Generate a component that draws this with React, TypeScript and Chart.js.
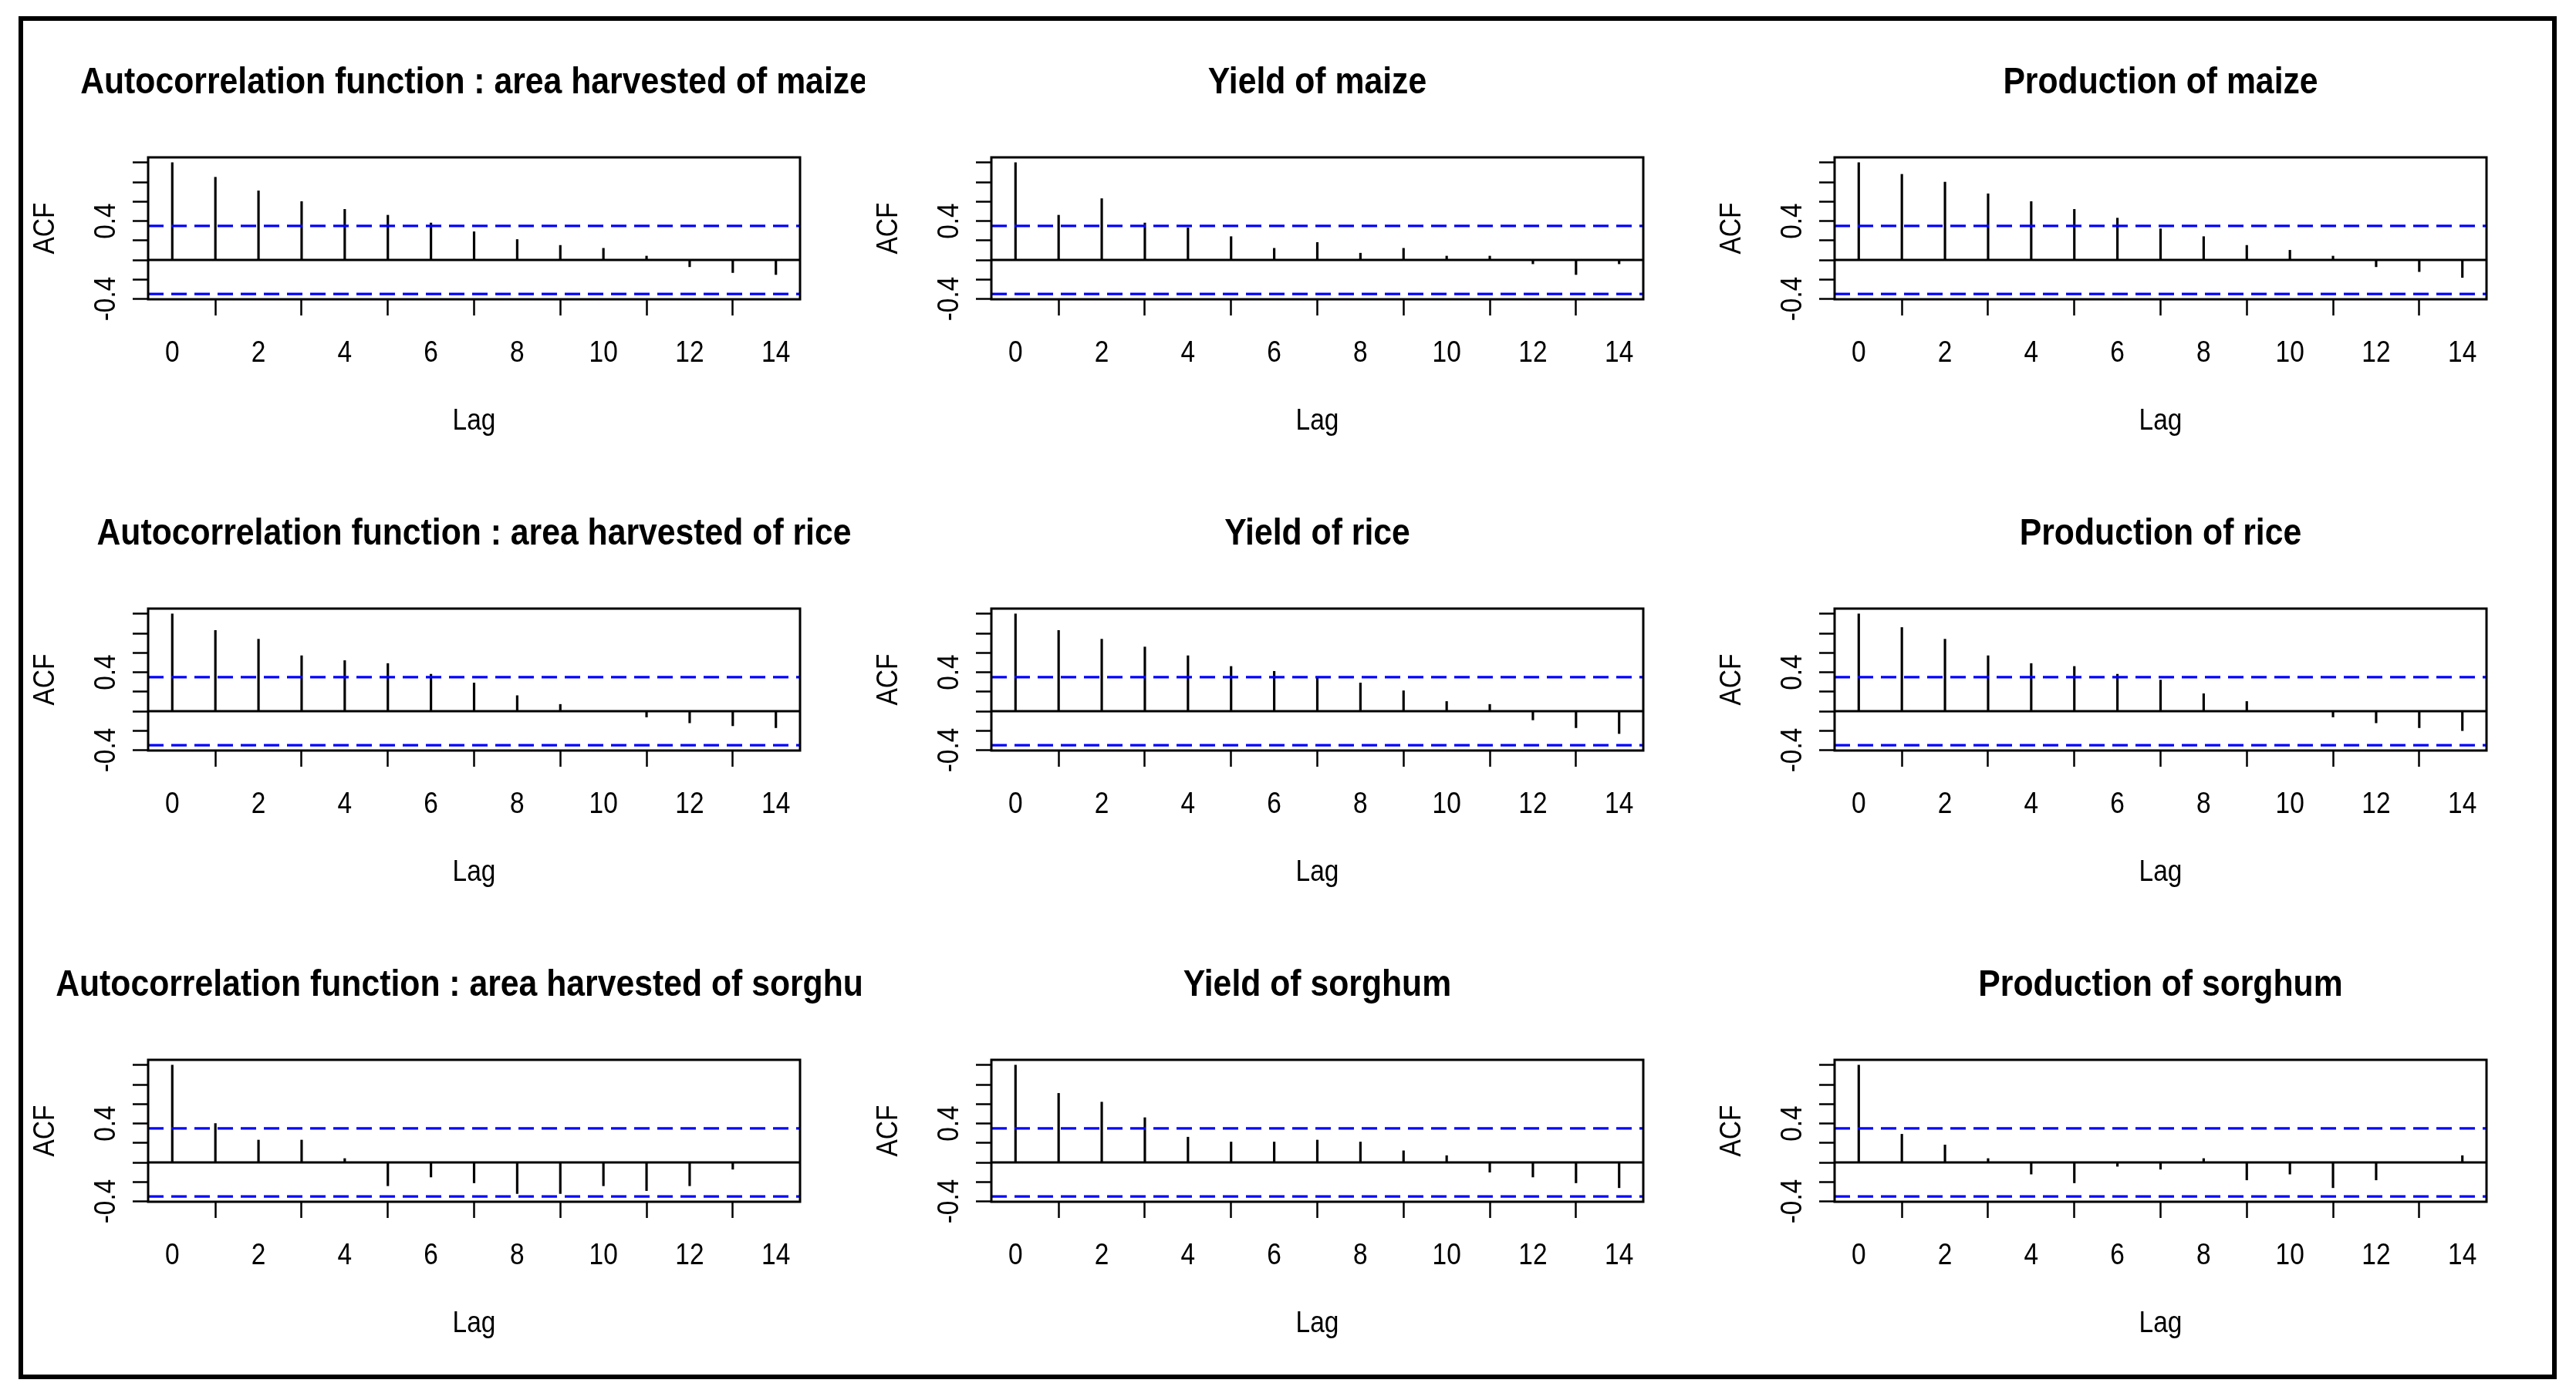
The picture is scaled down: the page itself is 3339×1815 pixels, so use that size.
import React, { useEffect, useRef } from 'react';
import { Chart, registerables } from 'chart.js';

Chart.register(...registerables);

const FONT = '"Liberation Sans", Arial, sans-serif';
const NARROW_TITLE = 0.89;
const NARROW_LABEL = 0.88;

// ---- data ----
const lags = [0, 1, 2, 3, 4, 5, 6, 7, 8, 9, 10, 11, 12, 13, 14];
const xTickValues = [0, 2, 4, 6, 8, 10, 12, 14];
const yTickValues = [-0.4, -0.2, 0, 0.2, 0.4, 0.6, 0.8, 1.0];
const yLabelValues = [-0.4, 0.4];
const ciBound = 0.35;
const xMin = -0.56;
const xMax = 14.56;
const yMin = -0.404;
const yMax = 1.054;
const xAxisTitle = 'Lag';
const yAxisTitle = 'ACF';

const acfAreaMaize = [1, 0.85, 0.71, 0.6, 0.52, 0.46, 0.38, 0.29, 0.21, 0.15, 0.12, 0.04, -0.07, -0.13, -0.15];
const acfYieldMaize = [1, 0.46, 0.63, 0.38, 0.33, 0.24, 0.12, 0.18, 0.07, 0.12, 0.04, 0.04, -0.04, -0.15, -0.04];
const acfProdMaize = [1, 0.88, 0.8, 0.68, 0.6, 0.52, 0.43, 0.32, 0.24, 0.15, 0.1, 0.04, -0.07, -0.12, -0.18];
const acfAreaRice = [1, 0.83, 0.74, 0.57, 0.52, 0.49, 0.38, 0.29, 0.16, 0.07, -0.005, -0.06, -0.12, -0.15, -0.17];
const acfYieldRice = [1, 0.83, 0.74, 0.66, 0.57, 0.46, 0.41, 0.35, 0.29, 0.21, 0.1, 0.07, -0.09, -0.17, -0.23];
const acfProdRice = [1, 0.86, 0.74, 0.57, 0.49, 0.46, 0.38, 0.32, 0.18, 0.1, -0.005, -0.06, -0.12, -0.17, -0.2];
const acfAreaSorghum = [1, 0.4, 0.23, 0.23, 0.04, -0.24, -0.15, -0.21, -0.32, -0.32, -0.24, -0.29, -0.24, -0.07, -0.005];
const acfYieldSorghum = [1, 0.71, 0.62, 0.46, 0.26, 0.21, 0.21, 0.23, 0.21, 0.12, 0.07, -0.1, -0.15, -0.21, -0.26];
const acfProdSorghum = [1, 0.29, 0.18, 0.04, -0.12, -0.21, -0.04, -0.07, 0.04, -0.18, -0.12, -0.26, -0.18, -0.005, 0.07];

const panelTitles = [
  'Autocorrelation function : area harvested of maize',
  'Yield of maize',
  'Production of maize',
  'Autocorrelation function : area harvested of rice',
  'Yield of rice',
  'Production of rice',
  'Autocorrelation function : area harvested of sorghum',
  'Yield of sorghum',
  'Production of sorghum',
];
const panelSeries = [
  acfAreaMaize, acfYieldMaize, acfProdMaize,
  acfAreaRice, acfYieldRice, acfProdRice,
  acfAreaSorghum, acfYieldSorghum, acfProdSorghum,
];

// ---- layout ----
const CANVAS_W = 1093;
const CANVAS_H = 585;
const colLeft = [28, 1121, 2214];
const rowTop = [40, 625, 1210];
const PAD_TOP = 164;
const PAD_RIGHT = 84;
const Y_AXIS_W = 164;
const X_AXIS_H = 237;

function narrowText(ctx: CanvasRenderingContext2D, text: string, x: number, y: number, rotate: boolean, sx: number) {
  ctx.save();
  ctx.translate(x, y);
  if (rotate) ctx.rotate(-Math.PI / 2);
  ctx.scale(sx, 1);
  ctx.fillText(text, 0, 0);
  ctx.restore();
}

const acfDecor = {
  id: 'acfDecor',
  afterDraw(chart: any, _args: any, opts: any) {
    const { ctx, chartArea: a, scales } = chart;
    ctx.save();
    ctx.strokeStyle = '#000';
    ctx.lineWidth = 3;
    ctx.strokeRect(a.left, a.top, a.right - a.left, a.bottom - a.top);
    ctx.fillStyle = '#000';
    ctx.textAlign = 'center';
    ctx.textBaseline = 'alphabetic';
    ctx.font = `38px ${FONT}`;
    for (const v of yLabelValues) {
      const y = scales.y.getPixelForValue(v);
      narrowText(ctx, v.toFixed(1), a.left - 43, y, true, NARROW_LABEL);
    }
    for (const v of xTickValues) {
      const x = scales.x.getPixelForValue(v);
      narrowText(ctx, String(v), x, a.bottom + 81, false, NARROW_LABEL);
    }
    narrowText(ctx, xAxisTitle, (a.left + a.right) / 2, a.bottom + 169, false, NARROW_LABEL);
    narrowText(ctx, yAxisTitle, a.left - 122, (a.top + a.bottom) / 2, true, NARROW_LABEL);
    ctx.font = `bold 48px ${FONT}`;
    narrowText(ctx, opts.text, (a.left + a.right) / 2, a.top - 83, false, NARROW_TITLE);
    ctx.restore();
  },
};

function AcfPanel({ index }: { index: number }) {
  const ref = useRef<HTMLCanvasElement | null>(null);
  const values = panelSeries[index];
  const title = panelTitles[index];
  useEffect(() => {
    if (!ref.current) return;
    const flat = (v: number) => [{ x: xMin, y: v }, { x: xMax, y: v }];
    const chart = new Chart(ref.current, {
      type: 'bar',
      data: {
        datasets: [
          {
            type: 'bar',
            data: lags.map((l, i) => ({ x: l, y: values[i] })),
            backgroundColor: '#000',
            borderWidth: 0,
            barThickness: 2.5,
            grouped: false,
            order: 3,
          } as any,
          {
            type: 'line',
            data: flat(0),
            borderColor: '#000',
            borderWidth: 3,
            pointRadius: 0,
            order: 2,
          } as any,
          {
            type: 'line',
            data: flat(ciBound),
            borderColor: '#0000ff',
            borderWidth: 3.3,
            borderDash: [20, 10],
            pointRadius: 0,
            order: 1,
          } as any,
          {
            type: 'line',
            data: flat(-ciBound),
            borderColor: '#0000ff',
            borderWidth: 3.3,
            borderDash: [20, 10],
            pointRadius: 0,
            order: 1,
          } as any,
        ],
      },
      options: {
        animation: false,
        responsive: false,
        maintainAspectRatio: false,
        devicePixelRatio: 1,
        layout: { padding: { top: PAD_TOP, left: 0, right: PAD_RIGHT, bottom: 0 } },
        plugins: {
          legend: { display: false },
          tooltip: { enabled: false },
          title: { display: false },
          acfDecor: { text: title },
        } as any,
        scales: {
          x: {
            type: 'linear',
            min: xMin,
            max: xMax,
            offset: false,
            afterBuildTicks: (s: any) => { s.ticks = xTickValues.map((v) => ({ value: v })); },
            afterFit: (s: any) => { s.height = X_AXIS_H; },
            grid: { drawOnChartArea: false, drawTicks: true, tickLength: 21, tickWidth: 2.5, tickColor: '#000' },
            border: { display: false },
            ticks: { display: false },
            title: { display: false },
          },
          y: {
            type: 'linear',
            min: yMin,
            max: yMax,
            afterBuildTicks: (s: any) => { s.ticks = yTickValues.map((v) => ({ value: v })); },
            afterFit: (s: any) => { s.width = Y_AXIS_W; },
            grid: { drawOnChartArea: false, drawTicks: true, tickLength: 20, tickWidth: 2.5, tickColor: '#000' },
            border: { display: false },
            ticks: { display: false },
            title: { display: false },
          },
        },
      } as any,
      plugins: [acfDecor],
    });
    return () => chart.destroy();
  }, [index]);
  const col = index % 3;
  const row = Math.floor(index / 3);
  return (
    <canvas
      ref={ref}
      width={CANVAS_W}
      height={CANVAS_H}
      style={{ position: 'absolute', left: colLeft[col], top: rowTop[row], width: CANVAS_W, height: CANVAS_H }}
    />
  );
}

export default function App() {
  useEffect(() => {
    document.body.style.margin = '0';
    document.body.style.background = '#fff';
  }, []);
  return (
    <div style={{ position: 'relative', width: 3339, height: 1815, background: '#fff', overflow: 'hidden' }}>
      <div
        style={{
          position: 'absolute',
          left: 24,
          top: 21,
          width: 3290,
          height: 1767,
          border: '6px solid #000',
          boxSizing: 'border-box',
        }}
      />
      {panelSeries.map((_, i) => (
        <AcfPanel key={i} index={i} />
      ))}
    </div>
  );
}
